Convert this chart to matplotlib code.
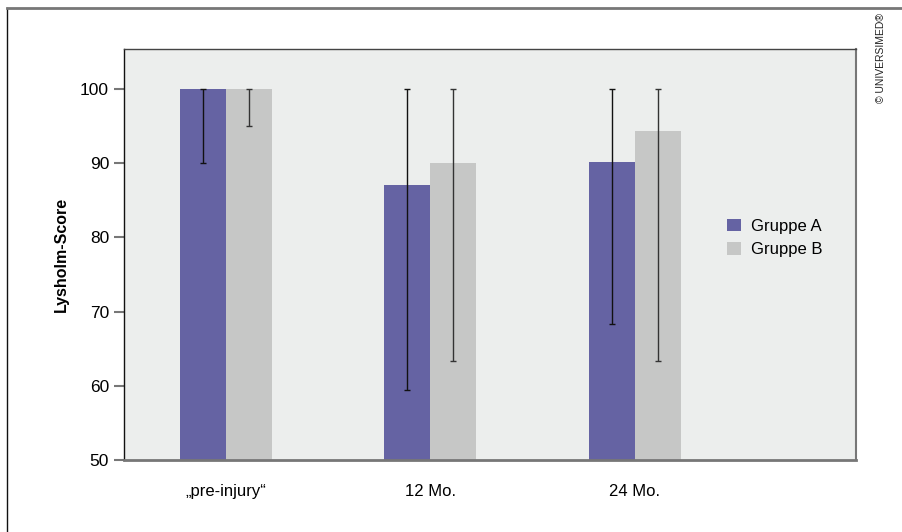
import matplotlib.pyplot as plt
import numpy as np
from matplotlib import font_manager

# fonts: prefer a narrow face if there is one
names = {f.name for f in font_manager.fontManager.ttflist}
narrow = "Liberation Sans Narrow" if "Liberation Sans Narrow" in names else "Liberation Sans"
plt.rcParams["font.family"] = [narrow, "DejaVu Sans"]

categories = ["\u201epre-injury\u201c", "12 Mo.", "24 Mo."]
groups = ["Gruppe A", "Gruppe B"]
mean_a = [100, 87.1, 90.2]
mean_b = [100, 90.0, 94.4]
low_a = [90, 59.5, 68.3]
low_b = [95, 63.3, 63.3]
high_a = [100, 100, 100]
high_b = [100, 100, 100]

COL_A = "#6563a3"
COL_B = "#c6c7c6"
BG = "#eceeed"

fig = plt.figure(figsize=(9.02, 5.32), dpi=100)
ax = fig.add_axes([0.1378, 0.1353, 0.8109, 0.7726])
ax.set_facecolor(BG)

x = np.arange(len(categories))
w = 0.225
for off, means, lows, highs, col, ecol, lab in [
    (-w / 2, mean_a, low_a, high_a, COL_A, "#111111", groups[0]),
    (w / 2, mean_b, low_b, high_b, COL_B, "#333333", groups[1]),
]:
    means = np.array(means)
    ax.bar(x + off, means - 50, w, bottom=50, color=col, label=lab, zorder=2)
    yerr = [means - np.array(lows), np.array(highs) - means]
    ax.errorbar(x + off, means, yerr=yerr, fmt="none", ecolor=ecol,
                elinewidth=1, capsize=2, capthick=1, zorder=3)

ax.set_xlim(-0.497, 3.08)
ax.set_ylim(50, 105.4)
ax.set_yticks([50, 60, 70, 80, 90, 100])
ax.set_xticks(x)
ax.set_xticklabels(categories)
ax.tick_params(axis="x", length=0, pad=17, labelsize=12)
ax.tick_params(axis="y", length=7, width=1.5, color="#777777", pad=4, labelsize=12.5)
ax.set_ylabel("Lysholm-Score", fontsize=11.5, fontweight="bold", labelpad=8)

ax.spines["left"].set_color("#111111")
ax.spines["left"].set_linewidth(1)
ax.spines["top"].set_color("#444444")
ax.spines["top"].set_linewidth(1)
ax.spines["right"].set_color("#777777")
ax.spines["right"].set_linewidth(1.5)
ax.spines["bottom"].set_color("#777777")
ax.spines["bottom"].set_linewidth(2)

ax.legend(loc="center left", bbox_to_anchor=(0.804, 0.54), frameon=False,
          fontsize=12, handlelength=0.8, handleheight=0.8, handletextpad=0.6,
          labelspacing=0.5)

# outer frame lines and copyright
fig.add_artist(plt.Line2D([0.0078, 0.0078], [0, 0.985], color="#111111", lw=1))
fig.add_artist(plt.Line2D([0.0078, 1.0], [0.985, 0.985], color="#777777", lw=2))
fig.text(0.977, 0.985 - 0.01, "\u00a9 UNIVERSIMED\u00ae", rotation=90,
         ha="center", va="top", fontsize=7.5, color="#222222")

fig.savefig("out.png", dpi=100)
